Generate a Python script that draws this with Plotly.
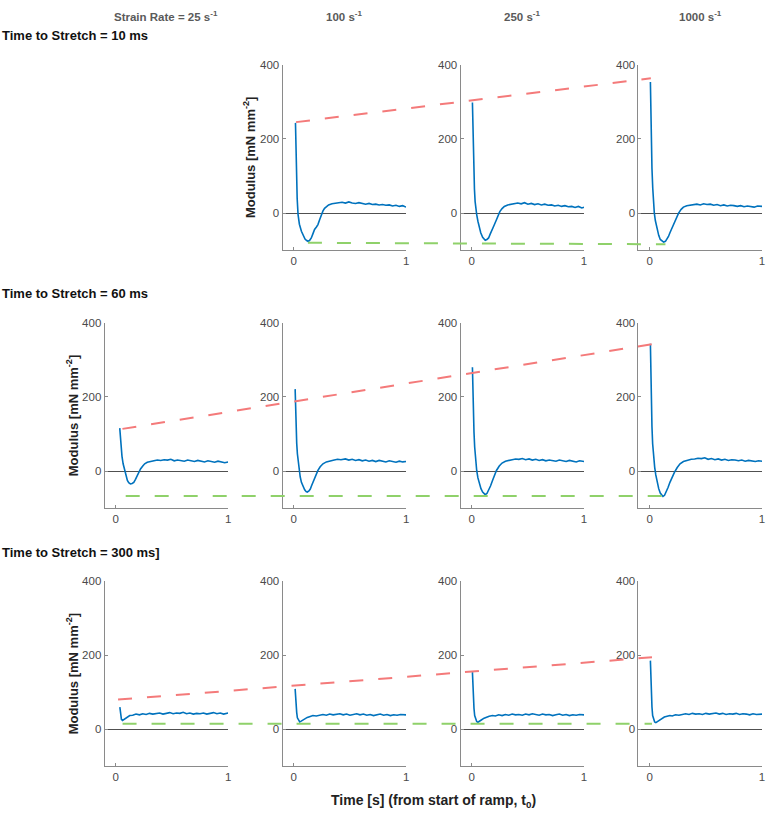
import plotly.graph_objects as go

# ---------------- data ----------------
row_labels = ["Time to Stretch = 10 ms", "Time to Stretch = 60 ms", "Time to Stretch = 300 ms]"]
col_labels = ["Strain Rate = 25 s<sup>-1</sup>", "100 s<sup>-1</sup>", "250 s<sup>-1</sup>", "1000 s<sup>-1</sup>"]
y_title = "Modulus [mN mm<sup>-2</sup>]"
x_title = "Time [s] (from start of ramp, t<sub>0</sub>)"
x_ticks = [0, 1]
y_ticks = [0, 200, 400]

# (row, col) -> (time, modulus)
t_r1c2 = [0.015,0.02,0.024,0.03,0.038,0.05,0.068,0.085,0.1,0.115,0.126,0.14,0.156,0.17,0.185,0.2,0.215,0.23,0.244,0.26,0.274,0.29,0.31,0.34,0.37,0.4,0.43,0.46,0.49,0.52,0.55,0.58,0.61,0.64,0.67,0.7,0.73,0.76,0.79,0.82,0.85,0.88,0.91,0.94,0.97,1.0]
v_r1c2 = [243,160,93,40,-4,-30,-49,-62,-70,-74,-76,-74,-67,-56,-44,-38,-31,-18,-4,6,13,18,22,25,27,28,29,27,30,27,26,28,25,24,26,23,24,22,23,21,22,19,21,18,20,16]

t_r1c3 = [0.006,0.012,0.018,0.024,0.03,0.037,0.044,0.055,0.068,0.08,0.097,0.11,0.12,0.135,0.15,0.165,0.185,0.2,0.22,0.235,0.25,0.27,0.29,0.32,0.35,0.38,0.41,0.44,0.47,0.5,0.53,0.56,0.59,0.62,0.65,0.68,0.71,0.74,0.77,0.8,0.83,0.86,0.89,0.92,0.95,0.98,1.0]
v_r1c3 = [298,190,111,65,31,10,-4,-22,-40,-53,-65,-71,-73,-71,-67,-56,-44,-32,-18,-6,4,12,18,22,24,26,27,25,28,24,26,23,25,22,24,21,22,19,21,18,20,17,18,15,18,14,16]

t_r1c4 = [0.006,0.01,0.015,0.02,0.027,0.034,0.041,0.05,0.065,0.08,0.094,0.11,0.124,0.14,0.153,0.167,0.18,0.2,0.22,0.24,0.257,0.28,0.3,0.33,0.36,0.39,0.42,0.45,0.48,0.51,0.54,0.57,0.6,0.63,0.66,0.69,0.72,0.75,0.78,0.81,0.84,0.87,0.9,0.93,0.96,1.0]
v_r1c4 = [353,260,182,120,67,28,0,-20,-44,-60,-71,-76,-78,-76,-71,-63,-53,-40,-27,-12,0,10,16,20,22,23,24,22,25,23,24,21,23,20,22,19,21,20,18,20,17,19,18,16,19,18]

t_r2c1 = [0.035,0.04,0.047,0.055,0.065,0.074,0.083,0.093,0.103,0.115,0.13,0.145,0.16,0.175,0.19,0.205,0.22,0.24,0.257,0.28,0.31,0.34,0.37,0.4,0.43,0.46,0.49,0.52,0.55,0.58,0.61,0.64,0.67,0.7,0.73,0.76,0.79,0.82,0.85,0.88,0.91,0.94,0.97,1.0]
v_r2c1 = [116,90,65,40,20,8,-3,-15,-25,-31,-34,-33,-30,-22,-12,-3,6,14,20,24,27,28,30,29,31,30,32,28,30,29,27,30,28,26,29,27,25,28,26,24,27,25,23,25]

t_r2c2 = [0.012,0.016,0.02,0.026,0.032,0.04,0.047,0.057,0.068,0.082,0.097,0.11,0.12,0.135,0.147,0.16,0.176,0.195,0.215,0.235,0.26,0.29,0.33,0.36,0.39,0.42,0.46,0.49,0.52,0.55,0.58,0.61,0.64,0.67,0.7,0.73,0.76,0.79,0.82,0.85,0.88,0.91,0.94,0.97,1.0]
v_r2c2 = [221,160,109,75,47,22,2,-15,-30,-42,-50,-55,-56,-53,-48,-38,-25,-10,2,12,20,25,29,30,32,31,33,30,32,29,31,28,30,27,29,26,29,27,25,28,26,24,27,25,26]

t_r2c3 = [0.006,0.01,0.015,0.02,0.026,0.034,0.044,0.055,0.068,0.082,0.097,0.11,0.12,0.135,0.15,0.167,0.185,0.2,0.22,0.245,0.27,0.3,0.33,0.36,0.39,0.42,0.45,0.48,0.51,0.54,0.57,0.6,0.63,0.66,0.69,0.72,0.75,0.78,0.81,0.84,0.87,0.9,0.93,0.96,1.0]
v_r2c3 = [280,210,154,105,65,30,2,-18,-34,-47,-56,-61,-63,-60,-52,-40,-25,-12,2,14,22,27,30,31,33,32,34,31,33,30,32,29,31,28,30,29,27,30,28,26,29,27,25,28,26]

t_r2c4 = [0.006,0.01,0.015,0.02,0.026,0.034,0.044,0.054,0.065,0.08,0.094,0.106,0.118,0.132,0.147,0.163,0.18,0.2,0.22,0.245,0.27,0.3,0.34,0.37,0.4,0.43,0.46,0.49,0.52,0.55,0.58,0.61,0.64,0.67,0.7,0.73,0.76,0.79,0.82,0.85,0.88,0.91,0.94,0.97,1.0]
v_r2c4 = [343,260,181,120,74,38,11,-10,-30,-47,-59,-65,-68,-65,-56,-44,-30,-16,-3,10,20,26,30,32,33,35,34,36,32,34,31,33,30,32,29,31,30,28,30,27,29,27,26,28,27]

t_r3c1 = [0.036,0.04,0.044,0.05,0.06,0.07,0.08,0.1,0.124,0.15,0.18,0.21,0.24,0.27,0.3,0.33,0.36,0.39,0.42,0.45,0.48,0.51,0.54,0.57,0.6,0.63,0.66,0.69,0.72,0.75,0.78,0.81,0.84,0.87,0.9,0.93,0.96,1.0]
v_r3c1 = [60,45,33,27,24,26,30,34,37,38,41,39,42,40,43,41,42,44,41,43,45,42,44,43,46,42,44,41,43,42,44,41,43,45,42,44,41,44]

t_r3c2 = [0.012,0.016,0.02,0.026,0.032,0.042,0.053,0.066,0.082,0.1,0.12,0.14,0.17,0.2,0.23,0.26,0.29,0.32,0.35,0.38,0.41,0.44,0.47,0.5,0.53,0.56,0.59,0.62,0.65,0.68,0.71,0.74,0.77,0.8,0.83,0.86,0.89,0.92,0.95,1.0]
v_r3c2 = [109,85,65,45,31,24,20,22,25,29,32,34,37,36,38,40,38,41,39,40,42,39,41,38,40,42,39,41,38,40,37,39,41,38,40,37,39,38,40,39]

t_r3c3 = [0.006,0.01,0.015,0.02,0.026,0.034,0.044,0.055,0.068,0.085,0.11,0.13,0.155,0.185,0.21,0.24,0.27,0.3,0.33,0.36,0.39,0.42,0.45,0.48,0.51,0.54,0.57,0.6,0.63,0.66,0.69,0.72,0.75,0.78,0.81,0.84,0.87,0.9,0.93,0.96,1.0]
v_r3c3 = [154,115,82,56,37,27,21,19,21,25,30,33,35,37,36,39,37,40,38,41,39,40,38,41,39,42,40,38,41,39,40,37,39,41,38,40,37,39,38,40,39]

t_r3c4 = [0.006,0.01,0.015,0.02,0.026,0.034,0.044,0.055,0.065,0.085,0.11,0.13,0.155,0.18,0.2,0.23,0.26,0.29,0.32,0.35,0.38,0.41,0.44,0.47,0.5,0.53,0.56,0.59,0.62,0.65,0.68,0.71,0.74,0.77,0.8,0.83,0.86,0.89,0.92,0.95,1.0]
v_r3c4 = [185,135,91,60,37,26,20,18,20,25,30,33,35,37,36,39,38,40,42,40,43,41,42,40,43,41,42,44,41,43,40,42,41,43,40,42,41,39,42,40,41]

curves = {
    (0, 1): (t_r1c2, v_r1c2), (0, 2): (t_r1c3, v_r1c3), (0, 3): (t_r1c4, v_r1c4),
    (1, 0): (t_r2c1, v_r2c1), (1, 1): (t_r2c2, v_r2c2), (1, 2): (t_r2c3, v_r2c3), (1, 3): (t_r2c4, v_r2c4),
    (2, 0): (t_r3c1, v_r3c1), (2, 1): (t_r3c2, v_r3c2), (2, 2): (t_r3c3, v_r3c3), (2, 3): (t_r3c4, v_r3c4),
}

# trend lines across a row: (column, time, modulus) at both ends
red_col = [[1, 3], [0, 3], [0, 3]]
red_t = [[0.02, 0.01], [0.059, 0.02], [0.02, 0.02]]
red_v = [[245, 363], [114, 342], [80, 194]]
green_col = [[1, 3], [0, 3], [0, 3]]
green_t = [[0.126, 0.14], [0.088, 0.115], [0.06, 0.02]]
green_v = [[-80, -84], [-67, -67], [15, 15]]

# ---------------- layout geometry (pixels) ----------------
W, H = 768, 827
COL_LEFT = [105, 283.67, 462.33, 641]
PANEL_W = 124
ROW_TOP = [59, 319, 579]
PANEL_H = 187
X_RANGE = [-0.1, 1.0]
Y_RANGE = [-100, 400]
PPU = PANEL_W / (X_RANGE[1] - X_RANGE[0])

BLUE = "#0072BD"
RED = "#F47A7A"
GREEN = "#8FD16A"
AX = "#8a8a8a"
TXT = "#4a4a4a"
FONT = "Liberation Sans, Arial, sans-serif"

fig = go.Figure()
layout = dict(
    width=W, height=H, margin=dict(l=0, r=0, t=0, b=0),
    paper_bgcolor="white", plot_bgcolor="rgba(0,0,0,0)",
    showlegend=False, font=dict(family=FONT, size=11.5, color=TXT),
)


def xdom(left, width):
    return [left / W, (left + width) / W]


def ydom(top, height):
    return [1 - (top + height) / H, 1 - top / H]


annotations = []
idx = 0
for (r, c), (tt, vv) in curves.items():
    idx += 1
    xa = "xaxis" if idx == 1 else f"xaxis{idx}"
    ya = "yaxis" if idx == 1 else f"yaxis{idx}"
    xr = "x" if idx == 1 else f"x{idx}"
    yr = "y" if idx == 1 else f"y{idx}"
    layout[xa] = dict(domain=xdom(COL_LEFT[c], PANEL_W), range=X_RANGE, anchor=yr,
                      tickvals=x_ticks, ticks="inside", ticklen=3, tickcolor=AX,
                      showline=True, linecolor=AX, linewidth=1, showgrid=False,
                      zeroline=False, tickfont=dict(size=11.5, color=TXT), fixedrange=True)
    layout[ya] = dict(domain=ydom(ROW_TOP[r], PANEL_H), range=Y_RANGE, anchor=xr,
                      tickvals=y_ticks, ticks="inside", ticklen=3, tickcolor=AX,
                      showline=True, linecolor=AX, linewidth=1, showgrid=False,
                      zeroline=True, zerolinecolor="#505050", zerolinewidth=1,
                      tickfont=dict(size=11.5, color=TXT), fixedrange=True)
    fig.add_trace(go.Scatter(x=tt, y=vv, mode="lines", xaxis=xr, yaxis=yr,
                             line=dict(color=BLUE, width=1.6), hoverinfo="skip"))
    # y-axis title on the first panel of each row
    first_col = min(cc for (rr, cc) in curves if rr == r)
    if c == first_col:
        annotations.append(dict(
            text=f"<b>{y_title}</b>", textangle=-90, xref="paper", yref="paper",
            x=(COL_LEFT[c] - 33) / W, y=1 - (ROW_TOP[r] + PANEL_H / 2) / H,
            xanchor="center", yanchor="middle", showarrow=False,
            font=dict(size=13, color="#222222", family=FONT)))

# overlay axes spanning each row for the trend lines
span_w = COL_LEFT[3] + PANEL_W - COL_LEFT[0]
g_range = [X_RANGE[0], X_RANGE[0] + span_w / PPU]


def gx(col, t):
    return (COL_LEFT[col] - COL_LEFT[0]) / PPU + t


for r in range(3):
    idx += 1
    xa, ya, xr, yr = f"xaxis{idx}", f"yaxis{idx}", f"x{idx}", f"y{idx}"
    layout[xa] = dict(domain=xdom(COL_LEFT[0], span_w), range=g_range, anchor=yr,
                      visible=False, fixedrange=True)
    layout[ya] = dict(domain=ydom(ROW_TOP[r], PANEL_H), range=Y_RANGE, anchor=xr,
                      visible=False, fixedrange=True)
    fig.add_trace(go.Scatter(
        x=[gx(green_col[r][0], green_t[r][0]), gx(green_col[r][1], green_t[r][1])],
        y=green_v[r], mode="lines", xaxis=xr, yaxis=yr,
        line=dict(color=GREEN, width=2, dash="14px,15px"), hoverinfo="skip"))
    fig.add_trace(go.Scatter(
        x=[gx(red_col[r][0], red_t[r][0]), gx(red_col[r][1], red_t[r][1])],
        y=red_v[r], mode="lines", xaxis=xr, yaxis=yr,
        line=dict(color=RED, width=2, dash="14px,15px"), hoverinfo="skip"))

# column headers
for c, lab in enumerate(col_labels):
    annotations.append(dict(text=f"<b>{lab}</b>", xref="paper", yref="paper",
                            x=(COL_LEFT[c] + PANEL_W / 2) / W, y=1 - 10 / H,
                            xanchor="center", yanchor="middle", showarrow=False,
                            font=dict(size=11.5, color="#5a5a5a", family=FONT)))
# row headers
for r, lab in enumerate(row_labels):
    annotations.append(dict(text=f"<b>{lab}</b>", xref="paper", yref="paper",
                            x=0, y=1 - (ROW_TOP[r] - 29) / H,
                            xanchor="left", yanchor="middle", showarrow=False,
                            font=dict(size=13, color="#111111", family=FONT)))
# shared x title
annotations.append(dict(text=f"<b>{x_title}</b>", xref="paper", yref="paper",
                        x=(COL_LEFT[0] + span_w / 2) / W, y=1 - 801 / H,
                        xanchor="center", yanchor="middle", showarrow=False,
                        font=dict(size=14, color="#222222", family=FONT)))

layout["annotations"] = annotations
fig.update_layout(**layout)
fig.write_html("out.html")
